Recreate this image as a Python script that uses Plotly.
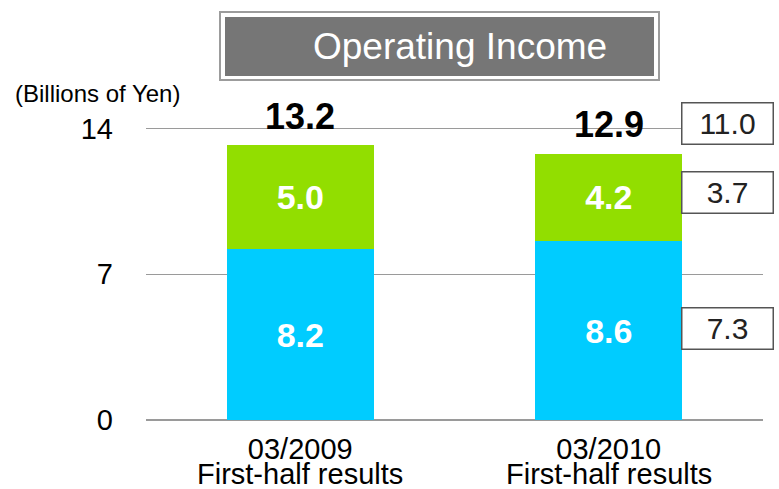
import plotly.graph_objects as go

# ---- data ----
categories = ["03/2009", "03/2010"]
sublabels = ["First-half results", "First-half results"]
base_values = [8.2, 8.6]          # blue segment
top_values = [5.0, 4.2]           # green segment
total_labels = ["13.2", "12.9"]
compare_values = [7.3, 3.7, 11.0]  # boxed values beside the 2nd bar (blue, green, total)
y_ticks = [0, 7, 14]
title_text = "Operating Income"
unit_text = "(Billions of Yen)"

FONT = "Liberation Sans, Arial, sans-serif"
BLUE = "#00CCFF"
GREEN = "#92DE00"

W, H = 779, 489
ML, MR, MT, MB = 146, 16, 87, 69
PW, PH = W - ML - MR, H - MT - MB


def px_x(p):
    return (p - ML) / PW


def px_y(p):
    return (H - MB - p) / PH


fig = go.Figure()
fig.add_trace(go.Bar(
    x=categories, y=base_values, marker_color=BLUE, marker_line_width=0,
    width=0.477, text=[f"{v:.1f}" for v in base_values],
    textposition="inside", insidetextanchor="middle",
    textfont=dict(family=FONT, size=34, color="white", weight="bold"),
    hoverinfo="skip",
))
fig.add_trace(go.Bar(
    x=categories, y=top_values, marker_color=GREEN, marker_line_width=0,
    width=0.477, text=[f"{v:.1f}" for v in top_values],
    textposition="inside", insidetextanchor="middle",
    textfont=dict(family=FONT, size=34, color="white", weight="bold"),
    hoverinfo="skip",
))

annotations = []
# totals above bars
for i, c in enumerate(categories):
    annotations.append(dict(
        x=c, y=base_values[i] + top_values[i], xref="x", yref="y",
        text=total_labels[i], showarrow=False, yanchor="middle", yshift=29,
        font=dict(family=FONT, size=36, color="black", weight="bold"),
    ))
# sublabels under categories
for i, c in enumerate(categories):
    annotations.append(dict(
        x=c, y=px_y(474), xref="x", yref="paper", text=sublabels[i],
        showarrow=False, yanchor="middle",
        font=dict(family=FONT, size=29, color="black"),
    ))
# boxed comparison values beside second bar
last = categories[-1]
box_y = [base_values[-1] / 2,
         base_values[-1] + top_values[-1] / 2,
         base_values[-1] + top_values[-1]]
box_shift = [2, 5, 30]
for v, yv, ys in zip(compare_values, box_y, box_shift):
    annotations.append(dict(
        x=last, y=yv, xref="x", yref="y", text=f"{v:.1f}", showarrow=False,
        xshift=119, yshift=ys, width=88, height=38, borderpad=1,
        bordercolor="#555555", borderwidth=1.5, bgcolor="white",
        font=dict(family=FONT, size=30, color="#222222"),
    ))
# unit label
annotations.append(dict(
    x=px_x(97), y=px_y(93), xref="paper", yref="paper", text=unit_text,
    showarrow=False, xanchor="center", yanchor="middle",
    font=dict(family=FONT, size=24, color="black"),
))
# title
annotations.append(dict(
    x=px_x(460), y=px_y(46), xref="paper", yref="paper", text=title_text,
    showarrow=False, xanchor="center", yanchor="middle",
    font=dict(family=FONT, size=37, color="white"),
))

shapes = [
    dict(type="rect", xref="paper", yref="paper",
         x0=px_x(220), x1=px_x(659), y0=px_y(80), y1=px_y(12),
         fillcolor="white", line=dict(color="#9C9C9C", width=2), layer="above"),
    dict(type="rect", xref="paper", yref="paper",
         x0=px_x(225), x1=px_x(654), y0=px_y(76), y1=px_y(17),
         fillcolor="#767676", line=dict(width=0), layer="above"),
]

fig.update_layout(
    width=W, height=H, margin=dict(l=ML, r=MR, t=MT, b=MB),
    barmode="stack", showlegend=False,
    plot_bgcolor="white", paper_bgcolor="white",
    font=dict(family=FONT, color="black"),
    annotations=annotations, shapes=shapes,
    xaxis=dict(
        type="category", range=[-0.5, 1.5], showgrid=False, showline=False,
        zeroline=False, ticks="", ticklabelstandoff=9,
        tickfont=dict(family=FONT, size=29, color="black"),
    ),
    yaxis=dict(
        range=[0, 16], tickvals=y_ticks, ticktext=[str(t) for t in y_ticks],
        showgrid=True, gridcolor="#9A9A9A", gridwidth=1.2,
        zeroline=True, zerolinecolor="#9A9A9A", zerolinewidth=1.5,
        showline=False, ticks="", ticklabelstandoff=32,
        tickfont=dict(family=FONT, size=29, color="black"),
    ),
)

fig.write_html(
    "out.html",
    config={"displayModeBar": False},
    post_script="document.body.style.margin='0';document.body.style.padding='0';"
                "document.body.style.overflow='hidden';",
)
